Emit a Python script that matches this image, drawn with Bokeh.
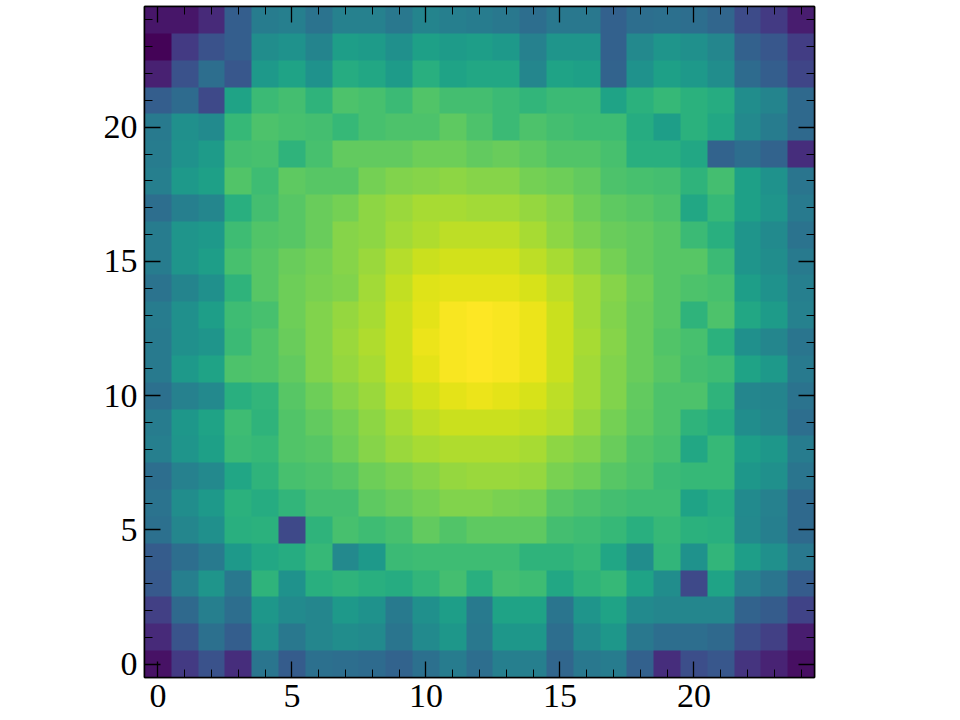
import numpy as np
from bokeh.embed import file_html
from bokeh.models import FixedTicker, LinearAxis, LinearColorMapper, Range1d
from bokeh.palettes import Viridis256
from bokeh.plotting import figure
from bokeh.resources import INLINE

tick_values = [0, 5, 10, 15, 20]
minor_values = list(range(0, 25))

row_00 = [5,17,25,13,39,29,37,36,35,32,37,42,36,43,43,33,40,42,31,13,24,27,15,10,4]
row_01 = [12,26,37,30,50,40,46,49,48,39,48,53,40,53,53,36,48,53,40,36,36,34,24,19,8]
row_02 = [19,34,43,36,53,48,46,54,51,41,50,56,41,58,58,39,52,58,48,46,46,46,32,29,20]
row_03 = [28,43,52,40,65,51,63,65,63,62,66,70,63,70,69,60,65,67,58,49,22,58,44,39,29]
row_04 = [29,36,41,54,60,62,67,47,54,68,69,69,69,69,65,65,67,59,49,66,51,66,56,50,40]
row_05 = [37,46,50,63,64,22,65,71,69,71,76,73,75,75,75,70,69,67,63,67,64,63,47,43,34]
row_06 = [38,49,54,64,62,66,70,70,75,77,79,81,81,80,79,74,72,70,69,69,58,62,48,44,34]
row_07 = [36,44,47,59,65,71,72,74,78,80,82,84,85,85,84,80,78,74,72,68,67,67,53,50,39]
row_08 = [43,52,57,68,67,73,74,78,82,85,87,88,88,88,87,83,81,77,73,71,60,67,56,53,42]
row_09 = [42,53,58,69,65,73,76,79,83,87,90,92,92,92,91,89,84,79,75,72,65,62,49,46,36]
row_10 = [37,44,47,63,66,74,78,82,85,90,93,96,97,96,94,90,86,81,76,72,72,65,46,45,38]
row_11 = [41,54,58,72,73,76,81,84,87,92,96,99,100,99,97,92,86,81,77,74,70,69,58,54,41]
row_12 = [41,50,52,68,73,77,81,85,88,92,97,99,100,99,97,92,87,82,77,73,71,64,50,46,39]
row_13 = [42,50,56,69,71,78,81,84,87,92,96,99,100,99,97,92,86,81,77,74,65,72,60,55,44]
row_14 = [38,45,50,65,74,78,80,81,86,91,95,96,96,96,94,90,86,82,78,74,72,71,56,51,43]
row_15 = [42,52,56,71,74,77,79,82,85,89,92,93,93,93,90,87,83,79,76,74,74,68,52,49,41]
row_16 = [42,52,54,69,73,74,77,82,83,86,88,90,90,90,87,83,80,77,76,74,68,63,52,48,38]
row_17 = [36,43,46,63,70,74,77,79,83,85,87,87,86,86,84,82,78,75,74,72,60,67,57,52,41]
row_18 = [43,54,57,73,69,75,74,74,79,81,82,83,82,82,79,78,76,72,71,70,65,70,57,51,39]
row_19 = [42,51,55,70,71,65,71,76,76,76,78,78,76,77,75,73,73,71,63,63,60,32,36,32,13]
row_20 = [41,50,48,67,72,71,70,67,71,72,72,75,72,68,72,70,69,69,62,56,64,60,47,42,34]
row_21 = [30,35,22,58,68,70,65,72,71,68,73,70,70,68,66,68,68,58,64,67,64,62,49,45,34]
row_22 = [9,25,36,27,54,58,51,62,60,55,63,58,60,60,46,58,57,32,51,57,54,49,35,30,21]
row_23 = [1,17,25,30,49,51,45,56,55,50,57,55,56,54,44,52,52,31,47,52,50,46,31,27,18]
row_24 = [6,6,12,30,42,43,38,44,44,40,45,43,42,40,36,40,40,31,36,37,36,33,23,17,8]

rows = [row_00,row_01,row_02,row_03,row_04,row_05,row_06,row_07,row_08,row_09,
        row_10,row_11,row_12,row_13,row_14,row_15,row_16,row_17,row_18,row_19,
        row_20,row_21,row_22,row_23,row_24]
grid = np.array(rows, dtype=float)

FONT = "Liberation Serif"

p = figure(
    frame_width=670, frame_height=671,
    x_range=Range1d(-0.5, 24.5), y_range=Range1d(-0.5, 24.5),
    x_axis_location=None, y_axis_location=None,
    output_backend="svg", toolbar_location=None,
    margin=(-8, 0, 0, -8),
    outline_line_color="black", outline_line_width=1.5,
)
p.grid.visible = False
p.background_fill_color = "white"

mapper = LinearColorMapper(palette=Viridis256, low=0, high=100)
p.image(image=[grid], x=-0.5, y=-0.5, dw=len(rows[0]), dh=len(rows), color_mapper=mapper)


def make_axis(labelled):
    ax = LinearAxis(
        ticker=FixedTicker(ticks=tick_values, minor_ticks=minor_values),
        major_tick_in=16, major_tick_out=0,
        minor_tick_in=8, minor_tick_out=0,
        major_tick_line_color="black", major_tick_line_width=1.3,
        minor_tick_line_color="black", minor_tick_line_width=1,
        axis_line_color="black", axis_line_width=1.5,
        major_label_text_font=FONT,
        major_label_text_font_size="34px",
        major_label_text_color="black",
        major_label_standoff=7,
    )
    if not labelled:
        ax.major_label_overrides = {t: "" for t in tick_values}
        ax.major_label_text_font_size = "1px"
        ax.major_label_standoff = 0
    return ax


p.add_layout(make_axis(True), "left")
p.add_layout(make_axis(True), "below")
p.add_layout(make_axis(False), "above")
p.add_layout(make_axis(False), "right")

p.min_border_left = 152
p.min_border_top = 14
p.min_border_bottom = 35
p.min_border_right = 60

open("out.html", "w").write(file_html(p, INLINE))
